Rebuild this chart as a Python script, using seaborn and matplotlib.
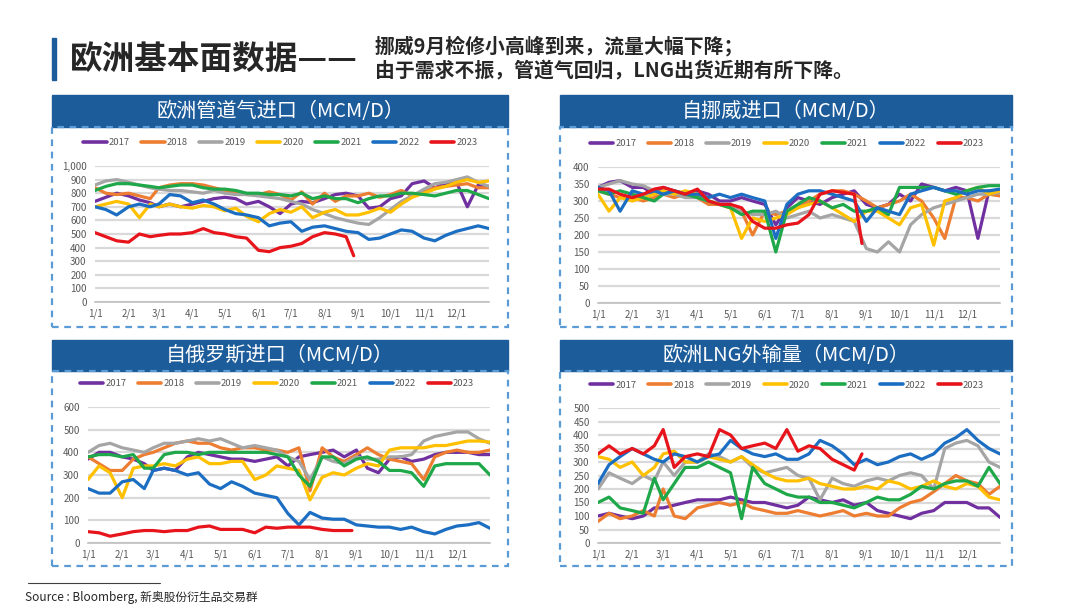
import pandas as pd
import matplotlib
matplotlib.use("Agg")
import matplotlib.pyplot as plt
from matplotlib.patches import Rectangle
from matplotlib.lines import Line2D
from matplotlib.ticker import FuncFormatter, MultipleLocator
import seaborn as sns

# ---------- Data (~every 10 days) ----------
DAYS = ["01-01", "01-11", "01-21", "02-01", "02-11", "02-21", "03-01", "03-11", "03-21",
        "04-01", "04-11", "04-21", "05-01", "05-11", "05-21", "06-01", "06-11", "06-21",
        "07-01", "07-11", "07-21", "08-01", "08-11", "08-21", "09-01", "09-11", "09-21",
        "10-01", "10-11", "10-21", "11-01", "11-11", "11-21", "12-01", "12-11", "12-21",
        "12-31"]
DAYS_2023 = DAYS[:24] + ["08-28"]

YEARS  = ["2017", "2018", "2019", "2020", "2021", "2022", "2023"]
COLORS = ["#7030A0", "#ED7D31", "#A5A5A5", "#FFC000", "#1FA84A", "#1B6EC2", "#E8141B"]

# Europe pipeline imports
PIPE_2017 = [740, 770, 800, 780, 750, 730, 700, 720, 700, 720, 740, 760, 770, 760, 720, 740, 700, 650, 720,
             740, 730, 760, 790, 800, 780, 690, 700, 760, 780, 870, 890, 840, 870, 880, 700, 860, 850]
PIPE_2018 = [840, 800, 790, 800, 780, 760, 840, 860, 870, 870, 860, 840, 820, 800, 790, 790, 810, 790, 750,
             810, 720, 800, 740, 780, 780, 800, 770, 790, 820, 780, 810, 840, 850, 860, 870, 840, 840]
PIPE_2019 = [860, 890, 900, 880, 860, 840, 830, 820, 820, 810, 800, 820, 800, 790, 790, 780, 770, 760, 740,
             720, 680, 650, 620, 600, 580, 570, 620, 680, 740, 780, 830, 870, 880, 900, 920, 880, 850]
PIPE_2020 = [700, 720, 740, 720, 620, 720, 700, 720, 700, 690, 710, 700, 670, 690, 630, 590, 650, 680, 660,
             700, 620, 660, 680, 640, 640, 660, 690, 660, 720, 770, 800, 830, 850, 880, 900, 880, 890]
PIPE_2021 = [820, 850, 870, 870, 860, 850, 840, 850, 860, 860, 840, 830, 830, 820, 800, 800, 790, 790, 780,
             800, 760, 780, 760, 760, 730, 760, 780, 780, 800, 800, 790, 780, 800, 820, 820, 790, 760]
PIPE_2022 = [700, 680, 640, 700, 720, 700, 720, 790, 780, 730, 750, 720, 680, 650, 640, 620, 560, 580, 590,
             520, 550, 560, 540, 520, 510, 460, 470, 500, 530, 520, 470, 450, 490, 520, 540, 560, 540]
PIPE_2023 = [510, 480, 450, 440, 500, 480, 490, 500, 500, 510, 540, 510, 500, 480, 470, 380, 370, 400, 410,
             430, 480, 510, 500, 480, 340]

# Imports from Norway
NOR_2017 = [340, 355, 360, 340, 340, 320, 340, 330, 320, 330, 320, 300, 300, 310, 300, 290, 230, 280, 310,
            300, 290, 310, 320, 330, 290, 280, 290, 320, 300, 350, 340, 330, 340, 330, 190, 330, 330]
NOR_2018 = [330, 320, 310, 310, 300, 310, 320, 310, 320, 310, 290, 290, 280, 270, 200, 270, 260, 270, 280,
            300, 320, 330, 330, 320, 300, 280, 290, 300, 320, 300, 250, 190, 310, 310, 300, 320, 315]
NOR_2019 = [340, 350, 360, 350, 345, 330, 320, 320, 310, 310, 300, 290, 280, 270, 260, 260, 270, 250, 260,
            270, 250, 260, 250, 240, 160, 150, 180, 150, 230, 260, 280, 290, 300, 310, 320, 320, 325]
NOR_2020 = [320, 270, 310, 300, 310, 320, 330, 320, 330, 320, 300, 290, 280, 190, 250, 240, 250, 260, 280,
            290, 300, 280, 260, 240, 270, 270, 250, 230, 280, 290, 170, 300, 310, 330, 340, 320, 330]
NOR_2021 = [330, 320, 330, 320, 310, 300, 320, 330, 320, 310, 300, 290, 280, 260, 270, 270, 150, 270, 290,
            310, 300, 280, 290, 270, 270, 280, 260, 340, 340, 340, 340, 330, 320, 330, 340, 345, 345]
NOR_2022 = [340, 330, 270, 330, 320, 330, 320, 330, 320, 320, 310, 320, 310, 320, 310, 300, 190, 290, 320,
            330, 330, 320, 310, 300, 240, 280, 270, 260, 320, 330, 340, 330, 330, 320, 330, 330, 335]
NOR_2023 = [335, 335, 320, 310, 320, 335, 340, 330, 320, 335, 300, 290, 290, 280, 240, 220, 220, 230, 235,
            260, 320, 330, 325, 320, 175]

# Imports from Russia
RUS_2017 = [370, 400, 400, 380, 370, 350, 320, 330, 320, 380, 400, 390, 380, 370, 370, 360, 370, 380, 340,
            380, 390, 400, 410, 380, 410, 330, 310, 370, 380, 360, 370, 390, 400, 400, 400, 390, 390]
RUS_2018 = [380, 350, 320, 320, 370, 390, 400, 420, 440, 450, 440, 440, 420, 410, 420, 420, 410, 410, 400,
            420, 230, 420, 380, 360, 390, 420, 390, 370, 360, 350, 280, 380, 400, 410, 400, 400, 410]
RUS_2019 = [400, 430, 440, 420, 410, 400, 420, 440, 440, 450, 460, 450, 460, 440, 420, 430, 420, 410, 380,
            360, 280, 380, 360, 350, 380, 370, 370, 380, 380, 390, 450, 470, 480, 490, 490, 460, 440]
RUS_2020 = [280, 340, 310, 200, 330, 340, 340, 350, 340, 370, 380, 350, 350, 360, 360, 280, 300, 340, 330,
            320, 190, 290, 310, 300, 330, 350, 340, 410, 420, 420, 420, 430, 430, 440, 450, 450, 445]
RUS_2021 = [380, 390, 390, 380, 390, 330, 330, 390, 400, 400, 390, 400, 400, 400, 400, 400, 400, 390, 380,
            300, 250, 380, 380, 340, 370, 380, 360, 320, 320, 310, 250, 340, 350, 350, 350, 350, 300]
RUS_2022 = [240, 220, 220, 270, 280, 240, 320, 330, 320, 300, 310, 260, 240, 270, 250, 220, 210, 200, 130,
            80, 135, 110, 105, 105, 80, 75, 70, 70, 60, 70, 50, 40, 60, 75, 80, 90, 65]
RUS_2023 = [50, 45, 30, 40, 50, 55, 55, 50, 55, 55, 70, 75, 60, 60, 60, 45, 70, 65, 70, 70, 70, 60, 55, 55, 55]

# Europe LNG send-out
LNG_2017 = [100, 110, 100, 90, 100, 130, 130, 140, 150, 160, 160, 160, 170, 160, 150, 150, 140, 130, 140,
            170, 160, 150, 160, 140, 150, 120, 110, 100, 90, 110, 120, 150, 150, 150, 130, 130, 95]
LNG_2018 = [80, 110, 90, 100, 120, 100, 200, 100, 90, 130, 140, 150, 140, 150, 130, 120, 110, 110, 120,
            110, 100, 110, 120, 100, 110, 100, 100, 130, 150, 160, 190, 220, 250, 230, 220, 180, 210]
LNG_2019 = [200, 260, 240, 220, 250, 230, 300, 250, 300, 300, 330, 320, 300, 320, 280, 260, 270, 280, 250,
            240, 160, 240, 220, 210, 230, 240, 230, 250, 260, 250, 200, 350, 370, 380, 360, 300, 280]
LNG_2020 = [320, 310, 280, 300, 250, 280, 330, 340, 300, 300, 320, 310, 300, 320, 290, 260, 240, 230, 230,
            240, 220, 210, 200, 200, 210, 200, 230, 220, 200, 210, 230, 210, 200, 220, 210, 170, 160]
LNG_2021 = [150, 170, 130, 120, 110, 240, 160, 220, 280, 280, 300, 280, 260, 90, 280, 220, 200, 180, 170,
            170, 150, 150, 140, 130, 150, 170, 160, 160, 180, 210, 200, 220, 230, 230, 210, 280, 220]
LNG_2022 = [220, 290, 320, 350, 330, 310, 300, 330, 320, 300, 320, 330, 380, 350, 330, 320, 330, 310, 310,
            330, 380, 360, 330, 290, 310, 290, 300, 320, 330, 310, 330, 370, 390, 420, 380, 350, 330]
LNG_2023 = [330, 360, 330, 350, 330, 360, 420, 280, 320, 330, 320, 420, 400, 350, 360, 370, 350, 420, 340,
            360, 350, 310, 290, 270, 330]

# ---------- Layout helpers (pixel coords, origin top-left) ----------
W, H = 1080, 608
BLUE = "#1C5C9A"
TICK_GREY = "#595959"


def fig_rect(x0, y0, x1, y1):
    return [x0 / W, 1 - y1 / H, (x1 - x0) / W, (y1 - y0) / H]


def long_table(series):
    rows = []
    for year, vals in zip(YEARS, series):
        days = DAYS_2023 if year == "2023" else DAYS
        for d, v in zip(days, vals):
            rows.append({"date": pd.Timestamp("2001-" + d), "value": v, "year": year})
    return pd.DataFrame(rows)


def draw_panel(fig, title, series, head, frame_bottom, plot, ymax, ystep):
    hx0, hy0, hx1, hy1 = head
    # title bar
    fig.add_artist(Rectangle((hx0 / W, 1 - hy1 / H), (hx1 - hx0) / W, (hy1 - hy0) / H,
                             transform=fig.transFigure, color=BLUE, zorder=0))
    fig.text((hx0 + hx1) / 2 / W, 1 - (hy0 + hy1) / 2 / H, title, color="white",
             fontsize=14.5, ha="center", va="center")
    # dashed frame
    fig.add_artist(Rectangle((hx0 / W, 1 - frame_bottom / H), (hx1 - hx0) / W,
                             (frame_bottom - hy1) / H, transform=fig.transFigure, fill=False,
                             edgecolor="#5B9BD5", linewidth=1.6, linestyle=(0, (3, 2.5)), zorder=0))

    ax = fig.add_axes(fig_rect(*plot))
    df = long_table(series)
    sns.lineplot(data=df, x="date", y="value", hue="year", palette=dict(zip(YEARS, COLORS)),
                 linewidth=2.3, legend=False, ax=ax, sort=False)

    ax.set_xlim(pd.Timestamp("2001-01-01"), pd.Timestamp("2001-12-31"))
    ax.set_ylim(0, ymax)
    ax.yaxis.set_major_locator(MultipleLocator(ystep))
    ax.yaxis.set_major_formatter(FuncFormatter(lambda v, _: f"{v:,.0f}"))
    months = [pd.Timestamp(f"2001-{m:02d}-01") for m in range(1, 13)]
    ax.set_xticks(months + [pd.Timestamp("2001-12-31")])
    ax.set_xticklabels([f"{m}/1" for m in range(1, 13)] + [""])
    ax.set_xlabel("")
    ax.set_ylabel("")
    ax.grid(axis="y", color="#D9D9D9", linewidth=1.6)
    ax.grid(axis="x", visible=False)
    for s in ["top", "right", "left"]:
        ax.spines[s].set_visible(False)
    ax.spines["bottom"].set_color("#BFBFBF")
    ax.spines["bottom"].set_linewidth(1.2)
    ax.tick_params(axis="x", length=3, color="#BFBFBF", labelsize=7, labelcolor=TICK_GREY, pad=2)
    ax.tick_params(axis="y", length=0, labelsize=7, labelcolor=TICK_GREY, pad=6)
    ax.set_facecolor("none")

    handles = [Line2D([], [], color=c, linewidth=2.6) for c in COLORS]
    ax.legend(handles, YEARS, loc="center", bbox_to_anchor=(0.47, 1.17), ncol=7, frameon=False,
              fontsize=6.8, handlelength=2.5, handletextpad=0.2, columnspacing=1.2,
              labelcolor=TICK_GREY)
    return ax


# ---------- Figure ----------
sns.set_theme(style="white")
plt.rcParams["font.family"] = ["Noto Sans CJK SC", "DejaVu Sans"]

fig = plt.figure(figsize=(10.8, 6.08), dpi=100)
fig.patch.set_facecolor("white")

# page header
fig.add_artist(Rectangle((52 / W, 1 - 80 / H), 4 / W, 42 / H, transform=fig.transFigure,
                         color=BLUE))
fig.text(70 / W, 1 - 59 / H, "欧洲基本面数据——", fontsize=23.5, fontweight="bold",
         color="#262626", va="center")
fig.text(375 / W, 1 - 46 / H, "挪威9月检修小高峰到来，流量大幅下降；", fontsize=14.3,
         fontweight="bold", color="#262626", va="center")
fig.text(375 / W, 1 - 71 / H, "由于需求不振，管道气回归，LNG出货近期有所下降。", fontsize=14.3,
         fontweight="bold", color="#262626", va="center")

draw_panel(fig, "欧洲管道气进口（MCM/D）",
           [PIPE_2017, PIPE_2018, PIPE_2019, PIPE_2020, PIPE_2021, PIPE_2022, PIPE_2023],
           head=(52, 95, 508, 127), frame_bottom=327, plot=(95, 166, 489, 302), ymax=1000, ystep=100)
draw_panel(fig, "自挪威进口（MCM/D）",
           [NOR_2017, NOR_2018, NOR_2019, NOR_2020, NOR_2021, NOR_2022, NOR_2023],
           head=(560, 95, 1012, 127), frame_bottom=327, plot=(598, 167, 1000, 303), ymax=400, ystep=50)
draw_panel(fig, "自俄罗斯进口（MCM/D）",
           [RUS_2017, RUS_2018, RUS_2019, RUS_2020, RUS_2021, RUS_2022, RUS_2023],
           head=(52, 340, 508, 371), frame_bottom=566, plot=(88, 407, 490, 543), ymax=600, ystep=100)
draw_panel(fig, "欧洲LNG外输量（MCM/D）",
           [LNG_2017, LNG_2018, LNG_2019, LNG_2020, LNG_2021, LNG_2022, LNG_2023],
           head=(560, 340, 1012, 371), frame_bottom=566, plot=(598, 408, 1000, 543), ymax=500, ystep=50)

# source note
fig.add_artist(Line2D([28 / W, 160 / W], [1 - 583 / H, 1 - 583 / H], transform=fig.transFigure,
                      color="#404040", linewidth=0.8))
fig.text(25 / W, 1 - 597 / H, "Source : Bloomberg, 新奥股份衍生品交易群", fontsize=8.5,
         color="#262626", va="center")

fig.savefig("out.png", dpi=100)
